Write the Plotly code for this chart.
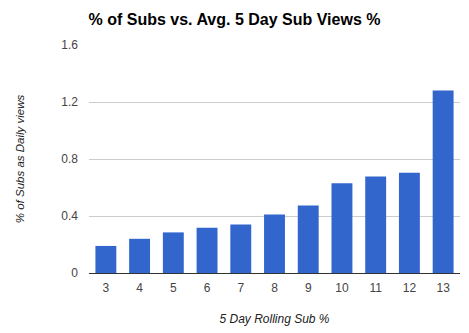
import plotly.graph_objects as go

categories = ["3", "4", "5", "6", "7", "8", "9", "10", "11", "12", "13"]
values = [0.19, 0.24, 0.285, 0.318, 0.341, 0.411, 0.474, 0.629, 0.678, 0.704, 1.281]
y_ticks = [0, 0.4, 0.8, 1.2, 1.6]

fig = go.Figure(go.Bar(x=categories, y=values, marker_color="#3366cc", marker_line_width=0))

fig.update_layout(
    width=469, height=333,
    margin=dict(l=89, r=9, t=45, b=60),
    paper_bgcolor="white", plot_bgcolor="white",
    bargap=0.38,
    font=dict(family="Liberation Sans, Arial", size=12, color="#444444"),
    title=dict(text="<b>% of Subs vs. Avg. 5 Day Sub Views %</b>",
               font=dict(size=16, color="black"), x=0.5, xanchor="center",
               y=1 - 19 / 333, yanchor="middle"),
    showlegend=False,
)
fig.update_xaxes(type="category", showgrid=False, ticks="", showline=True,
                 linecolor="#333333", linewidth=1, ticklabelstandoff=4,
                 title=dict(text="<i>5 Day Rolling Sub %</i>", standoff=20,
                            font=dict(size=12, color="#222222")))
fig.update_yaxes(range=[0, 1.6], tickvals=y_ticks, ticktext=["0", "0.4", "0.8", "1.2", "1.6"],
                 showgrid=True, gridcolor="#cccccc", zeroline=False, ticks="",
                 ticklabelstandoff=10,
                 title=dict(text="<i>% of Subs as Daily views</i>", standoff=34,
                            font=dict(size=11.5, color="#222222")))

fig.write_html("out.html")
